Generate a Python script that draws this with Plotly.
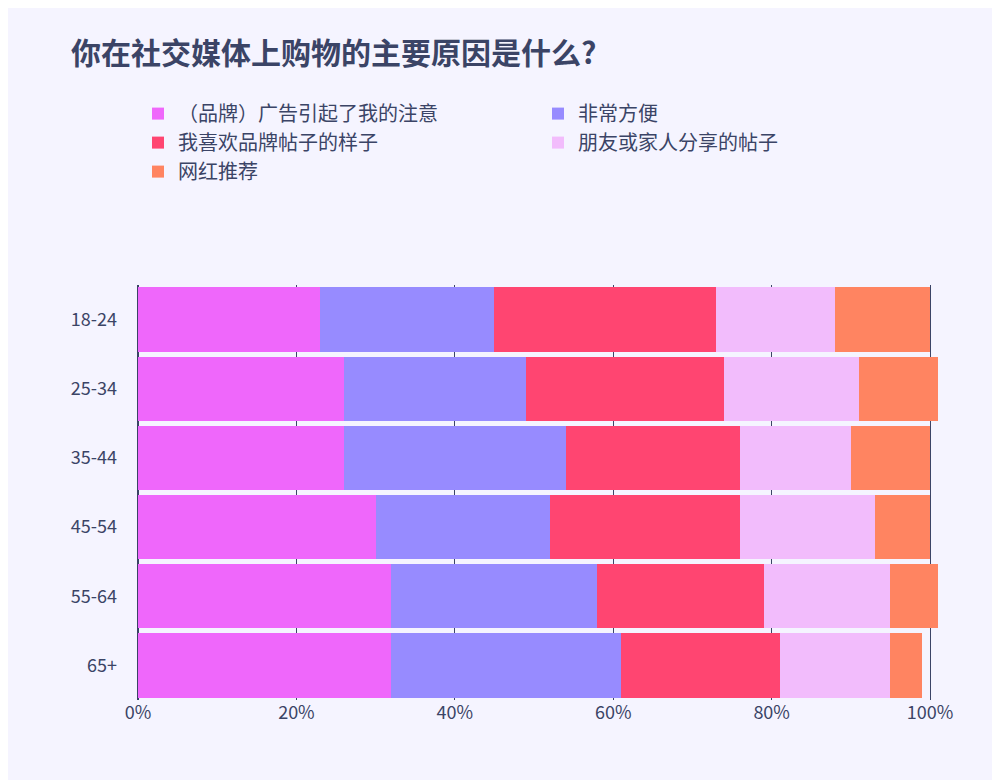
import plotly.graph_objects as go

ages = ["18-24", "25-34", "35-44", "45-54", "55-64", "65+"]
series = ["（品牌）广告引起了我的注意", "非常方便", "我喜欢品牌帖子的样子", "朋友或家人分享的帖子", "网红推荐"]
colors = ["#ef67fb", "#978bff", "#ff4571", "#f2bcfc", "#ff8461"]
values = [
    [23, 26, 26, 30, 32, 32],
    [22, 23, 28, 22, 26, 29],
    [28, 25, 22, 24, 21, 20],
    [15, 17, 14, 17, 16, 14],
    [12, 10, 10, 7, 6, 4],
]

fig = go.Figure()
for name, col, vals in zip(series, colors, values):
    fig.add_trace(go.Bar(
        y=ages, x=vals, name=name, orientation="h",
        marker=dict(color=col, line=dict(width=0)),
    ))

fig.update_layout(
    barmode="stack", bargap=0.07,
    width=1000, height=780,
    paper_bgcolor="#f5f4ff", plot_bgcolor="#f5f4ff",
    font=dict(family="Noto Sans CJK SC", color="#3b4466", size=18),
    title=dict(text="<b>你在社交媒体上购物的主要原因是什么?</b>", x=0.063, y=0.955,
               font=dict(size=30, color="#3b4466")),
    margin=dict(l=130, r=70, t=277, b=88),
    showlegend=True,
    legend=dict(orientation="h", x=0, y=1.46, xanchor="left", yanchor="top",
                entrywidth=0.5, entrywidthmode="fraction", tracegroupgap=0,
                font=dict(size=20, color="#3b4466"), traceorder="normal"),
    xaxis=dict(range=[0, 101], tickvals=[0, 20, 40, 60, 80, 100],
               ticktext=["0%", "20%", "40%", "60%", "80%", "100%"],
               showgrid=True, gridcolor="#3b4466", gridwidth=1, zeroline=True,
               zerolinecolor="#3b4466", tickfont=dict(size=18), automargin=False),
    yaxis=dict(autorange="reversed", ticklabelstandoff=20, tickfont=dict(size=18),
               automargin=False),
)
fig.write_html("out.html")
